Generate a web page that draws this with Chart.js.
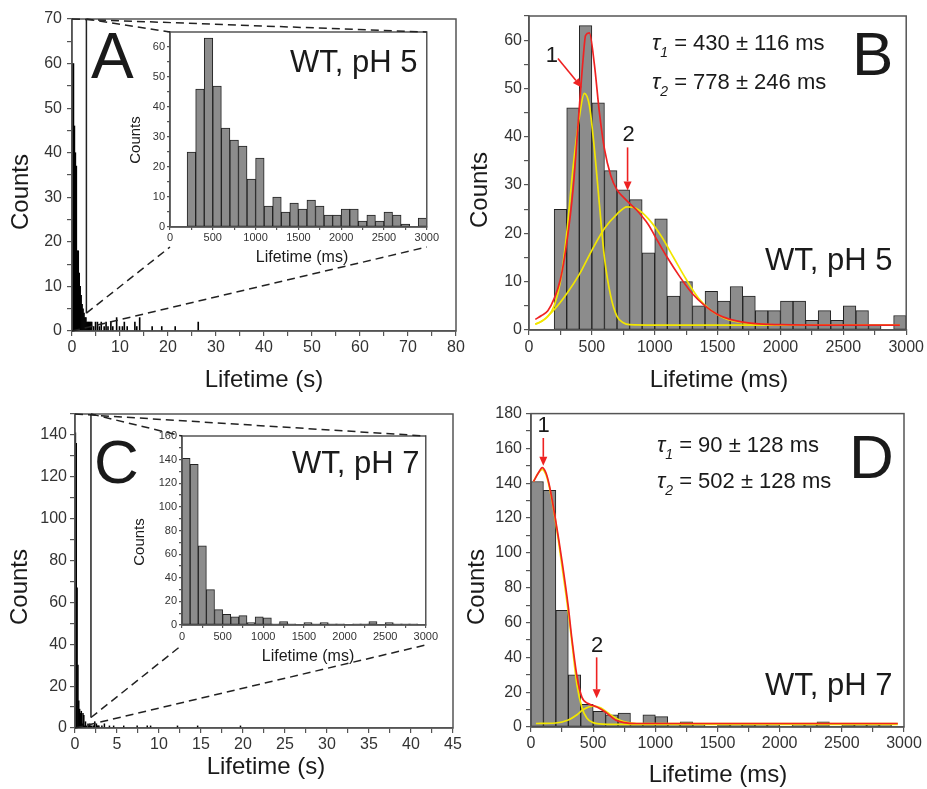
<!doctype html>
<html lang="en">
<head>
<meta charset="utf-8">
<title>Lifetime histograms, WT pH 5 / pH 7</title>
<script src="https://cdn.jsdelivr.net/npm/chart.js@4.4.1/dist/chart.umd.min.js"></script>
<style>
    body { margin: 0; background: #fff; }
    #wrap { position: relative; width: 927px; height: 789px; overflow: hidden; background: #fff; }
    canvas { position: absolute; }
</style>
</head>
<body>
<div id="wrap">
    <canvas id="chartA" width="480" height="400" style="left:0;top:0"></canvas>
    <canvas id="chartB" width="467" height="400" style="left:460px;top:0"></canvas>
    <canvas id="chartC" width="480" height="389" style="left:0;top:400px"></canvas>
    <canvas id="chartD" width="467" height="389" style="left:460px;top:400px"></canvas>
    <canvas id="insetA" width="330" height="250" style="left:110px;top:20px"></canvas>
    <canvas id="insetC" width="330" height="250" style="left:110px;top:420px"></canvas>
    <canvas id="overlay" width="927" height="789" style="left:0;top:0"></canvas>
</div>
<script>
    // 100 ms bins, bin centres in ms
    const binMs = [50, 150, 250, 350, 450, 550, 650, 750, 850, 950, 1050, 1150, 1250, 1350, 1450,
        1550, 1650, 1750, 1850, 1950, 2050, 2150, 2250, 2350, 2450, 2550, 2650, 2750, 2850, 2950]
    const countsPH5 = [0, 0, 25, 46, 63, 47, 33, 29, 27, 16, 23, 7, 10, 5, 8, 6, 9, 7, 4, 4, 6, 6, 2, 4, 2, 5, 4, 1, 0, 3]
    const countsPH7 = [141, 136, 67, 30, 13, 9, 7, 8, 2, 7, 6, 1, 3, 1, 0, 2, 1, 2, 1, 1, 0, 1, 1, 3, 0, 2, 1, 1, 1, 0]

    const fullSecPH5 = [0.1, 0.3, 0.5, 0.7, 0.9, 1.1, 1.3, 1.5, 1.7, 1.9, 2.1, 2.3, 2.5, 2.7, 2.9, 3.1, 3.3, 3.5, 3.7, 3.9,
        4.1, 4.5, 4.9, 5.3, 5.7, 6.1, 6.7, 7.1, 7.5, 8.1, 8.5, 9.3, 9.9, 10.5, 10.9, 11.5, 13.1, 13.5, 14.1, 16.7, 18.7, 21.5, 26.3]
    const fullCntPH5 = [60, 60, 46, 40, 37, 18, 18, 13, 10, 8, 6, 5, 4, 3, 3, 2, 2, 2, 2, 2,
        2, 1, 2, 2, 1, 2, 1, 2, 1, 2, 1, 3, 1, 1, 2, 1, 2, 1, 3, 1, 1, 1, 2]
    const fullSecPH7 = [0.05, 0.15, 0.25, 0.35, 0.45, 0.55, 0.65, 0.75, 0.85, 0.95, 1.05, 1.15, 1.25, 1.35, 1.55, 1.65, 1.75,
        1.85, 1.95, 2.15, 2.25, 2.35, 2.55, 2.65, 2.75, 2.85, 3.2, 3.5, 4.1, 4.6, 5.8, 7.4, 8.6, 9.0, 12.2, 14.6, 19.7]
    const fullCntPH7 = [141, 136, 67, 30, 13, 9, 7, 8, 2, 7, 6, 1, 3, 1, 2, 1, 2,
        1, 1, 1, 1, 3, 2, 1, 1, 1, 1, 2, 1, 1, 1, 1, 1, 1, 1, 1, 1]

    // fitted curves (B, pH 5)
    const sumMsB = [50, 100, 150, 200, 250, 300, 350, 400, 430, 450, 480, 520, 560, 600, 650, 700, 750, 800, 850, 900,
        950, 1000, 1100, 1200, 1300, 1400, 1500, 1600, 1800, 2000, 2500, 2950]
    const sumB = [2.2, 3, 4, 6.5, 10.5, 18, 29, 46, 56, 61, 61.5, 55, 45, 37.5, 32, 29, 27.5, 26.2, 25, 23.5,
        21.8, 19.5, 15, 11, 7.5, 5, 3.2, 2.2, 1.3, 1.1, 1, 1]
    const g1MsB = [50, 100, 150, 200, 250, 300, 350, 400, 440, 480, 520, 560, 600, 650, 700, 750, 800, 1000, 2950]
    const g1B = [1.2, 1.8, 2.8, 5, 10, 20, 33.5, 44, 49, 46.5, 37.5, 26, 15, 7, 2.8, 1.5, 1.1, 1, 1]
    const g2MsB = [50, 100, 200, 300, 400, 500, 600, 700, 780, 850, 950, 1050, 1150, 1250, 1350, 1450, 1550, 1700, 1900, 2200]
    const g2B = [1.2, 1.8, 4.2, 7.5, 11.5, 16.5, 21, 24, 25.5, 25.2, 23, 19.5, 15, 10.5, 6.5, 4, 2.5, 1.5, 1.1, 1]

    // fitted curves (D, pH 7)
    const sumMsD = [20, 60, 90, 120, 150, 200, 250, 300, 330, 370, 410, 460, 530, 600, 680, 750, 850, 1500, 2950]
    const sumD = [141, 146, 149, 146, 138, 118, 95, 69, 50, 29, 17, 13.5, 11.5, 8.5, 4, 2.5, 2, 2, 2]
    const g1MsD = [20, 60, 90, 120, 150, 200, 250, 300, 330, 370, 410, 450, 500, 550, 700, 2950]
    const g1D = [141, 146, 148, 145, 137, 117, 92, 66, 48, 24, 11, 5, 2.5, 1.8, 1.5, 1.5]
    const g2MsD = [40, 200, 300, 370, 420, 500, 560, 620, 690, 760, 850, 2950]
    const g2D = [2, 2.3, 4, 7, 10, 12, 11, 8, 4.8, 2.8, 2, 2]

    // zoomed region marked in A and C (s, counts)
    const zoomA = {x: 3, yLow: 4, yHigh: 70}
    const zoomC = {x: 1.9, yLow: 5, yHigh: 150}

    const FONT = '"Liberation Sans", Arial, Helvetica, sans-serif'
    Chart.defaults.font.family = FONT
    Chart.defaults.color = '#333'

    const pts = (xs, ys) => xs.map((x, i) => ({x: x, y: ys[i]}))

    const deco = {
        id: 'deco',
        afterDraw(chart, args, o) {
            const ctx = chart.ctx, a = chart.chartArea
            const ox = chart.canvas.offsetLeft, oy = chart.canvas.offsetTop
            const sx = chart.scales.x, sy = chart.scales.y
            ctx.save()
            ctx.strokeStyle = '#555'
            ctx.lineWidth = 1.5
            ctx.strokeRect(a.left, a.top, a.right - a.left, a.bottom - a.top)
            ;(o.texts || []).forEach(t => {
                ctx.save()
                ctx.font = `${t.size}px ${FONT}`
                ctx.textAlign = t.align || 'center'
                ctx.textBaseline = t.base || 'middle'
                ctx.fillStyle = '#1a1a1a'
                let x = t.x - ox, y = t.y - oy
                if (t.data) {
                    x = sx.getPixelForValue(t.x)
                    y = sy.getPixelForValue(t.y)
                }
                ctx.translate(x, y)
                if (t.rot) ctx.rotate(-Math.PI / 2)
                ctx.fillText(t.t, 0, 0)
                ctx.restore()
            })
            ;(o.taus || []).forEach(t => {
                let x = t.x - ox
                const y = t.y - oy
                ctx.fillStyle = '#1a1a1a'
                ctx.textAlign = 'left'
                ctx.textBaseline = 'alphabetic'
                ctx.font = `italic ${t.size}px ${FONT}`
                ctx.fillText('\u03c4', x, y)
                x += ctx.measureText('\u03c4').width
                ctx.font = `italic ${Math.round(t.size * 0.62)}px ${FONT}`
                ctx.fillText(t.sub, x, y + t.size * 0.3)
                x += ctx.measureText(t.sub).width
                ctx.font = `${t.size}px ${FONT}`
                ctx.fillText(' ' + t.rest, x, y)
            })
            ;(o.arrows || []).forEach(ar => {
                const x0 = sx.getPixelForValue(ar[0][0]), y0 = sy.getPixelForValue(ar[0][1])
                const x1 = sx.getPixelForValue(ar[1][0]), y1 = sy.getPixelForValue(ar[1][1])
                const ang = Math.atan2(y1 - y0, x1 - x0), L = 9, W = 4
                const bx = x1 - L * Math.cos(ang), by = y1 - L * Math.sin(ang)
                ctx.strokeStyle = '#ee2222'
                ctx.fillStyle = '#ee2222'
                ctx.lineWidth = 1.6
                ctx.beginPath()
                ctx.moveTo(x0, y0)
                ctx.lineTo(bx, by)
                ctx.stroke()
                ctx.beginPath()
                ctx.moveTo(x1, y1)
                ctx.lineTo(bx + W * Math.sin(ang), by - W * Math.cos(ang))
                ctx.lineTo(bx - W * Math.sin(ang), by + W * Math.cos(ang))
                ctx.closePath()
                ctx.fill()
            })
            ctx.restore()
        }
    }
    Chart.register(deco)

    function axis(a, horizontal) {
        return {
            type: 'linear', offset: false, min: a.min, max: a.max,
            afterFit: s => {
                if (horizontal) s.height = a.size
                else s.width = a.size
            },
            ticks: {
                stepSize: a.minor, autoSkip: false, maxRotation: 0, padding: a.pad, color: '#333',
                font: {size: a.font},
                callback: v => Math.abs(v / a.major - Math.round(v / a.major)) < 1e-6 ? String(Math.round(v)) : ''
            },
            grid: {drawOnChartArea: false, offset: false, tickLength: a.tick, color: '#555', lineWidth: 1.2},
            border: {color: '#555', width: 1.5}
        }
    }

    function makeChart(id, o) {
        return new Chart(document.getElementById(id), {
            type: 'bar',
            data: {datasets: o.datasets},
            options: {
                responsive: false,
                animation: false,
                events: [],
                layout: {padding: o.pad},
                plugins: {legend: {display: false}, tooltip: {enabled: false}, deco: o.deco},
                scales: {x: axis(o.x, true), y: axis(o.y, false)}
            }
        })
    }

    const grayBars = (xs, ys) => ({
        data: pts(xs, ys), backgroundColor: '#8c8c8c', borderColor: '#222', borderWidth: 1,
        borderSkipped: false, barPercentage: 1, categoryPercentage: 1, order: 3
    })
    const blackBars = (xs, ys) => ({
        data: pts(xs, ys), backgroundColor: '#000', borderWidth: 0,
        barPercentage: 1, categoryPercentage: 1, order: 3
    })
    const fitLine = (xs, ys, color, order) => ({
        type: 'line', data: pts(xs, ys), borderColor: color, borderWidth: 1.7, pointRadius: 0,
        cubicInterpolationMode: 'monotone', fill: false, order: order
    })
    const RED = '#f02222', YELLOW = '#f2e600'

    const chartA = makeChart('chartA', {
        pad: {top: 19, right: 24, bottom: 0, left: 0},
        datasets: [blackBars(fullSecPH5, fullCntPH5)],
        x: {min: 0, max: 80, minor: 5, major: 10, size: 69, pad: 2, tick: 5, font: 16},
        y: {min: 0, max: 70, minor: 5, major: 10, size: 72, pad: 5, tick: 5, font: 16},
        deco: {
            texts: [
                {t: 'Counts', x: 21, y: 192, size: 24, rot: true},
                {t: 'Lifetime (s)', x: 264, y: 380, size: 24},
                {t: 'A', x: 91, y: 78, size: 64, align: 'left', base: 'alphabetic'}
            ]
        }
    })

    const insetA = makeChart('insetA', {
        pad: {top: 12, right: 7, bottom: 0, left: 0},
        datasets: [grayBars(binMs, countsPH5)],
        x: {min: 0, max: 3000, minor: 250, major: 500, size: 43, pad: 1, tick: 3, font: 11},
        y: {min: 0, max: 65, minor: 5, major: 10, size: 60, pad: 2, tick: 3, font: 11},
        deco: {
            texts: [
                {t: 'Counts', x: 136, y: 140, size: 15, rot: true},
                {t: 'Lifetime (ms)', x: 302, y: 258, size: 16},
                {t: 'WT, pH 5', x: 290, y: 72, size: 31, align: 'left', base: 'alphabetic'}
            ]
        }
    })

    const chartB = makeChart('chartB', {
        pad: {top: 16, right: 19, bottom: 0, left: 0},
        datasets: [
            grayBars(binMs, countsPH5),
            fitLine(g1MsB, g1B, YELLOW, 2),
            fitLine(g2MsB, g2B, YELLOW, 2),
            fitLine(sumMsB, sumB, RED, 1)
        ],
        x: {min: 0, max: 3000, minor: 250, major: 500, size: 70, pad: 3, tick: 5, font: 16},
        y: {min: 0, max: 65, minor: 5, major: 10, size: 69, pad: 2, tick: 5, font: 16},
        deco: {
            texts: [
                {t: 'Counts', x: 480, y: 190, size: 24, rot: true},
                {t: 'Lifetime (ms)', x: 719, y: 380, size: 24},
                {t: 'B', x: 852, y: 75, size: 62, align: 'left', base: 'alphabetic'},
                {t: 'WT, pH 5', x: 765, y: 270, size: 31, align: 'left', base: 'alphabetic'},
                {t: '1', x: 182, y: 56.8, size: 22, data: true},
                {t: '2', x: 792, y: 40.3, size: 22, data: true}
            ],
            taus: [
                {x: 652, y: 50, size: 22, sub: '1', rest: '= 430 \u00b1 116 ms'},
                {x: 652, y: 89, size: 22, sub: '2', rest: '= 778 \u00b1 246 ms'}
            ],
            arrows: [[[230, 56.2], [419, 50.2]], [[784, 37.8], [784, 28.9]]]
        }
    })

    const chartC = makeChart('chartC', {
        pad: {top: 14, right: 27, bottom: 0, left: 0},
        datasets: [blackBars(fullSecPH7, fullCntPH7)],
        x: {min: 0, max: 45, minor: 2.5, major: 5, size: 61, pad: 2, tick: 5, font: 16},
        y: {min: 0, max: 150, minor: 10, major: 20, size: 75, pad: 3, tick: 5, font: 16},
        deco: {
            texts: [
                {t: 'Counts', x: 20, y: 587, size: 24, rot: true},
                {t: 'Lifetime (s)', x: 266, y: 767, size: 24},
                {t: 'C', x: 94, y: 483, size: 62, align: 'left', base: 'alphabetic'}
            ]
        }
    })

    const insetC = makeChart('insetC', {
        pad: {top: 16, right: 7, bottom: 0, left: 0},
        datasets: [grayBars(binMs, countsPH7)],
        x: {min: 0, max: 3000, minor: 250, major: 500, size: 45, pad: 2, tick: 3, font: 11},
        y: {min: 0, max: 160, minor: 10, major: 20, size: 72, pad: 2, tick: 3, font: 11},
        deco: {
            texts: [
                {t: 'Counts', x: 140, y: 542, size: 15, rot: true},
                {t: 'Lifetime (ms)', x: 308, y: 657, size: 16},
                {t: 'WT, pH 7', x: 292, y: 473, size: 31, align: 'left', base: 'alphabetic'}
            ]
        }
    })

    const chartD = makeChart('chartD', {
        pad: {top: 13, right: 23, bottom: 0, left: 0},
        datasets: [
            grayBars(binMs, countsPH7),
            fitLine(g1MsD, g1D, YELLOW, 2),
            fitLine(g2MsD, g2D, YELLOW, 2),
            fitLine(sumMsD, sumD, RED, 1)
        ],
        x: {min: 0, max: 3000, minor: 250, major: 500, size: 62, pad: 2, tick: 5, font: 16},
        y: {min: 0, max: 180, minor: 10, major: 20, size: 71, pad: 4, tick: 5, font: 16},
        deco: {
            texts: [
                {t: 'Counts', x: 477, y: 587, size: 24, rot: true},
                {t: 'Lifetime (ms)', x: 718, y: 775, size: 24},
                {t: 'D', x: 849, y: 478, size: 62, align: 'left', base: 'alphabetic'},
                {t: 'WT, pH 7', x: 765, y: 695, size: 31, align: 'left', base: 'alphabetic'},
                {t: '1', x: 102, y: 172.7, size: 22, data: true},
                {t: '2', x: 531, y: 46.6, size: 22, data: true}
            ],
            taus: [
                {x: 657, y: 452, size: 22, sub: '1', rest: '= 90 \u00b1 128 ms'},
                {x: 657, y: 488, size: 22, sub: '2', rest: '= 502 \u00b1 128 ms'}
            ],
            arrows: [[[99, 166], [99, 150]], [[528, 40], [528, 16.5]]]
        }
    })

    // zoom rectangle and dashed guide lines from main plot to inset
    const ov = document.getElementById('overlay').getContext('2d')

    function zoomLines(main, inset, z) {
        const c = main.canvas, sx = main.scales.x, sy = main.scales.y
        const P = (x, y) => [c.offsetLeft + sx.getPixelForValue(x), c.offsetTop + sy.getPixelForValue(y)]
        const ia = inset.chartArea, ic = inset.canvas
        const iL = ic.offsetLeft + ia.left, iR = ic.offsetLeft + ia.right
        const iT = ic.offsetTop + ia.top, iB = ic.offsetTop + ia.bottom + 20
        ov.strokeStyle = '#222'
        ov.lineWidth = 1.5
        ov.setLineDash([])
        const a = P(z.x, z.yHigh), b = P(z.x, z.yLow)
        ov.beginPath()
        ov.moveTo(a[0], a[1])
        ov.lineTo(b[0], b[1])
        ov.stroke()
        ov.setLineDash([8, 5])
        const segs = [
            [P(0, z.yHigh), [iR, iT]],
            [P(z.x, z.yHigh), [iL, iT]],
            [P(z.x, z.yLow), [iL, iB]],
            [P(0, 0), [iR, iB]]
        ]
        segs.forEach(s => {
            ov.beginPath()
            ov.moveTo(s[0][0], s[0][1])
            ov.lineTo(s[1][0], s[1][1])
            ov.stroke()
        })
    }

    zoomLines(chartA, insetA, zoomA)
    zoomLines(chartC, insetC, zoomC)
</script>
</body>
</html>
